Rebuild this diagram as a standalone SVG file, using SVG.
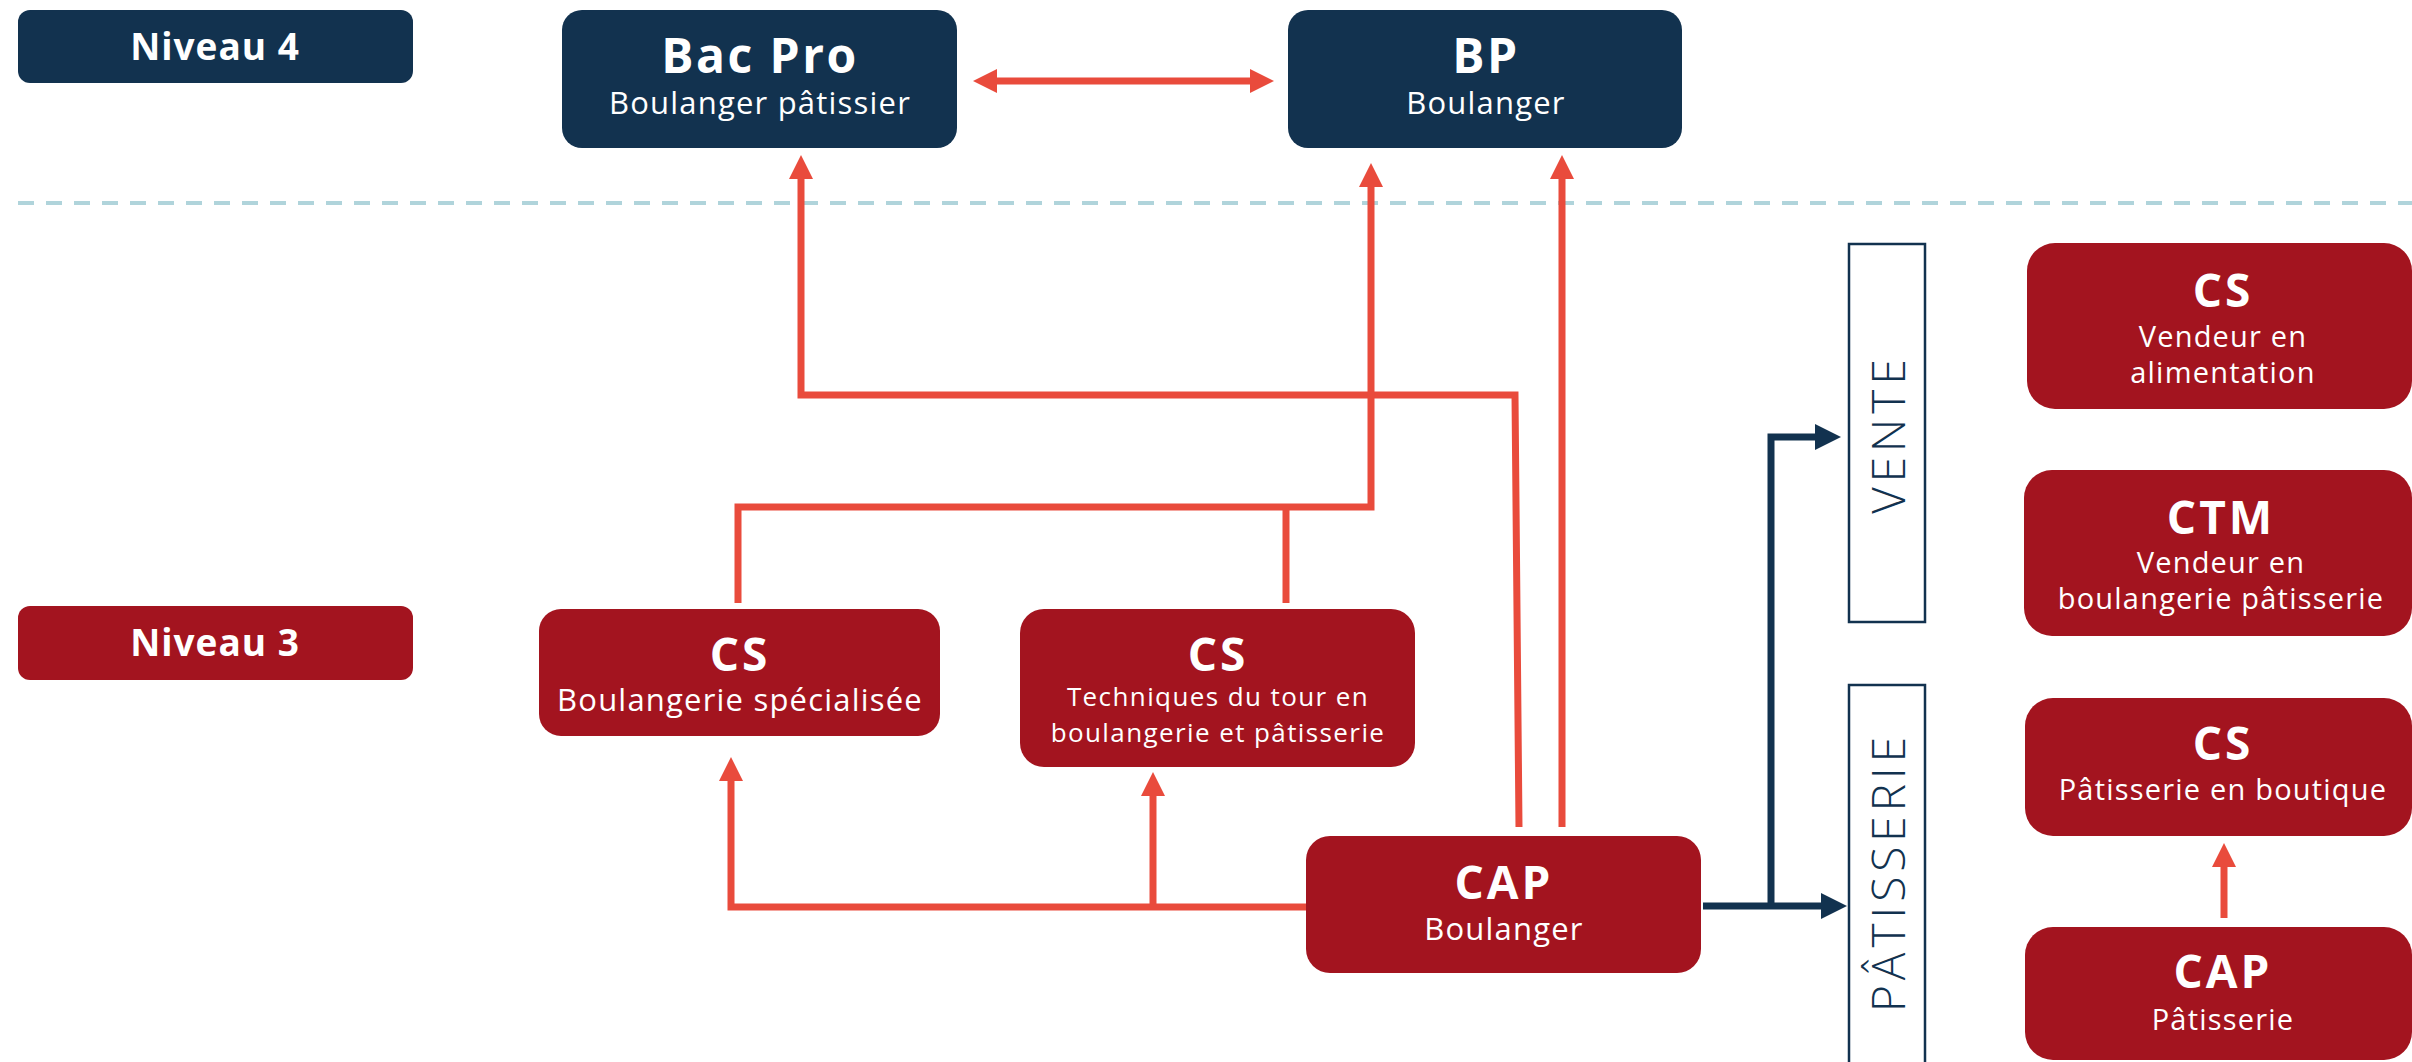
<svg xmlns="http://www.w3.org/2000/svg" width="2412" height="1062" viewBox="0 0 2412 1062">
<style>
.navy{fill:#12324F}
.red{fill:#A3141F}
.t{font-family:'Open Sans','Liberation Sans',sans-serif;fill:#FFFFFF;text-anchor:middle}
.b{font-weight:700}
.lvl{font-size:37px;font-weight:700;letter-spacing:1px}
.big{font-size:48px;letter-spacing:2.5px}
.mid{font-size:46px;letter-spacing:3px}
.sub{font-size:31px;letter-spacing:1.2px}
.sub2{font-size:29px;letter-spacing:1.2px}
.sub3{font-size:26px;letter-spacing:1.4px}
.side{fill:#FFFFFF;stroke:#12324F;stroke-width:2.5}
.sidet{font-family:'Open Sans','Liberation Sans',sans-serif;font-size:46px;font-weight:300;fill:#12324F;text-anchor:middle;letter-spacing:5px}
.cr{fill:none;stroke:#E94B3C;stroke-width:7}
.cn{fill:none;stroke:#12324F;stroke-width:7}
</style>
<defs>
<marker id="ar" markerUnits="userSpaceOnUse" markerWidth="24" markerHeight="24" refX="4" refY="12" orient="auto-start-reverse">
<path d="M0,0 L24,12 L0,24 Z" fill="#E94B3C"/>
</marker>
<marker id="an" markerUnits="userSpaceOnUse" markerWidth="26" markerHeight="26" refX="5" refY="13" orient="auto">
<path d="M0,0 L26,13 L0,26 Z" fill="#12324F"/>
</marker>
</defs>
<rect width="2412" height="1062" fill="#FFFFFF"/>
<line x1="18" y1="203" x2="2412" y2="203" stroke="#B0D4DB" stroke-width="4" stroke-dasharray="16 12"/>

<g id="niveau4"><rect class="navy" x="18" y="10" width="395" height="73" rx="12"/><text class="t lvl" x="215" y="60">Niveau 4</text></g>
<g id="niveau3"><rect class="red" x="18" y="606" width="395" height="74" rx="12"/><text class="t lvl" x="215" y="656">Niveau 3</text></g>

<g id="bacpro"><rect class="navy" x="562" y="10" width="395" height="138" rx="20"/><text class="t b big" x="760" y="73">Bac Pro</text><text class="t sub" x="760" y="114">Boulanger pâtissier</text></g>
<g id="bp"><rect class="navy" x="1288" y="10" width="394" height="138" rx="20"/><text class="t b big" x="1486" y="73">BP</text><text class="t sub" x="1486" y="114">Boulanger</text></g>

<g id="cs-boulangerie"><rect class="red" x="539" y="609" width="401" height="127" rx="22"/><text class="t b mid" x="740" y="671">CS</text><text class="t sub" x="740" y="711">Boulangerie spécialisée</text></g>
<g id="cs-tour"><rect class="red" x="1020" y="609" width="395" height="158" rx="24"/><text class="t b mid" x="1218" y="671">CS</text><text class="t sub3" x="1218" y="706">Techniques du tour en</text><text class="t sub3" x="1218" y="742">boulangerie et pâtisserie</text></g>
<g id="cap-boulanger"><rect class="red" x="1306" y="836" width="395" height="137" rx="24"/><text class="t b mid" x="1504" y="899">CAP</text><text class="t sub" x="1504" y="940">Boulanger</text></g>

<g id="vente"><rect class="side" x="1849" y="244" width="76" height="378"/><text class="sidet" transform="translate(1905,434) rotate(-90)">VENTE</text></g>
<g id="patisserie"><rect class="side" x="1849" y="685" width="76" height="420"/><text class="sidet" transform="translate(1905,872) rotate(-90)">PÂTISSERIE</text></g>

<g id="cs-vendeur"><rect class="red" x="2027" y="243" width="385" height="166" rx="28"/><text class="t b mid" x="2223" y="307">CS</text><text class="t sub2" x="2223" y="347">Vendeur en</text><text class="t sub2" x="2223" y="383">alimentation</text></g>
<g id="ctm"><rect class="red" x="2024" y="470" width="388" height="166" rx="28"/><text class="t b mid" x="2221" y="534">CTM</text><text class="t sub2" x="2221" y="573">Vendeur en</text><text class="t sub2" x="2221" y="609">boulangerie pâtisserie</text></g>
<g id="cs-patisserie"><rect class="red" x="2025" y="698" width="387" height="138" rx="28"/><text class="t b mid" x="2223" y="760">CS</text><text class="t sub2" x="2223" y="800">Pâtisserie en boutique</text></g>
<g id="cap-patisserie"><rect class="red" x="2025" y="927" width="387" height="133" rx="28"/><text class="t b mid" x="2223" y="988">CAP</text><text class="t sub2" x="2223" y="1030">Pâtisserie</text></g>

<g id="connectors">
<path class="cr" d="M993,81 L1254,81" marker-start="url(#ar)" marker-end="url(#ar)"/>
<path class="cr" d="M1519,827 L1515,395 L801,395 L801,175" marker-end="url(#ar)"/>
<path class="cr" d="M738,603 L738,507 L1371,507 L1371,183" marker-end="url(#ar)"/>
<path class="cr" d="M1286,603 L1286,507"/>
<path class="cr" d="M1562,827 L1562,175" marker-end="url(#ar)"/>
<path class="cr" d="M1306,907 L731,907 L731,777" marker-end="url(#ar)"/>
<path class="cr" d="M1153,907 L1153,792" marker-end="url(#ar)"/>
<path class="cr" d="M2224,918 L2224,863" marker-end="url(#ar)"/>
<path class="cn" d="M1703,906 L1826,906" marker-end="url(#an)"/>
<path class="cn" d="M1771,906 L1771,437 L1820,437" marker-end="url(#an)"/>
</g>
</svg>
